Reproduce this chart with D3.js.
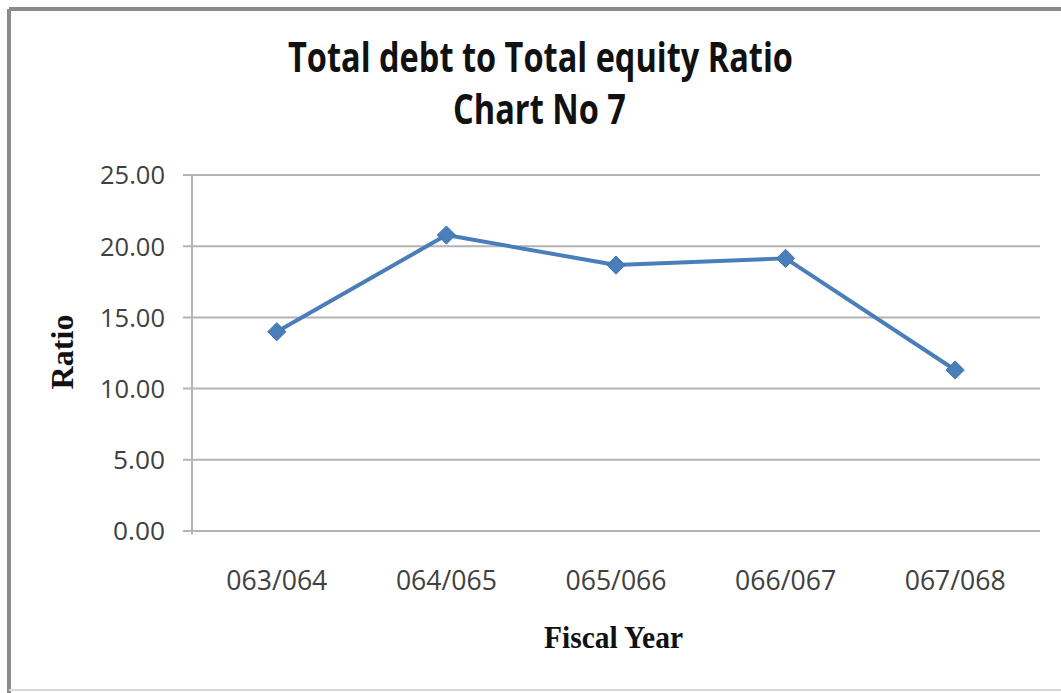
<!DOCTYPE html>
<html>
<head>
<meta charset="utf-8">
<script src="https://cdn.jsdelivr.net/npm/d3@7"></script>
<style>
  html, body { margin: 0; padding: 0; background: #ffffff; }
  svg { display: block; }
</style>
</head>
<body>
<svg id="chart" width="1061" height="693"></svg>
<script>
// Fiscal years and debt-to-equity ratios
const years = ["063/064", "064/065", "065/066", "066/067", "067/068"];
const ratios = [13.96, 20.75, 18.64, 19.11, 11.27];
const yTicks = [0, 5, 10, 15, 20, 25];
const titleLines = ["Total debt to Total equity Ratio", "Chart No 7"];

const W = 1061, H = 693;
const plot = { left: 192, right: 1040, top: 174.5, bottom: 530.5 };

const svg = d3.select("#chart");

// chart frame
svg.append("rect").attr("x", 0).attr("y", 0).attr("width", W).attr("height", H).attr("fill", "#fff");
svg.append("line").attr("x1", 9).attr("x2", W).attr("y1", 9).attr("y2", 9)
  .attr("stroke", "#8a8a8a").attr("stroke-width", 4);
svg.append("line").attr("x1", 9).attr("x2", 9).attr("y1", 9).attr("y2", H)
  .attr("stroke", "#8a8a8a").attr("stroke-width", 4);
svg.append("line").attr("x1", 9).attr("x2", W).attr("y1", 690).attr("y2", 690)
  .attr("stroke", "#d8d8d8").attr("stroke-width", 2);

const x = d3.scaleBand().domain(years).range([plot.left, plot.right]);
const y = d3.scaleLinear().domain([0, 25]).range([plot.bottom, plot.top]);

// horizontal gridlines with ticks extending left of the axis
const fmt = d3.format(".2f");
const yAxis = d3.axisLeft(y).tickValues(yTicks)
  .tickSize(-(plot.right - plot.left + 9)).tickPadding(0)
  .tickFormat(fmt);
const gy = svg.append("g").attr("transform", `translate(${plot.left - 9},0)`).call(yAxis);
gy.select(".domain").remove();
gy.selectAll(".tick line").attr("stroke", "#b3b3b3").attr("stroke-width", 2);
gy.selectAll(".tick text")
  .attr("x", -18).attr("dy", "0.36em")
  .attr("fill", "#404040")
  .attr("textLength", d => fmt(d).length * 13)
  .attr("lengthAdjust", "spacingAndGlyphs")
  .style("font-family", "'Open Sans', sans-serif")
  .style("font-size", "26px");

// vertical axis line
svg.append("line")
  .attr("x1", plot.left).attr("x2", plot.left)
  .attr("y1", y(25)).attr("y2", y(0) + 4)
  .attr("stroke", "#b3b3b3").attr("stroke-width", 2);

// category labels
const xAxis = d3.axisBottom(x).tickSize(0).tickPadding(0);
const gx = svg.append("g").attr("transform", `translate(0,${plot.bottom})`).call(xAxis);
gx.select(".domain").remove();
gx.selectAll(".tick text")
  .attr("y", 49).attr("dy", "0.36em")
  .attr("fill", "#404040")
  .attr("textLength", 101).attr("lengthAdjust", "spacingAndGlyphs")
  .style("font-family", "'Open Sans', sans-serif")
  .style("font-size", "28px");

// series line
const line = d3.line().x(d => x(d.year) + x.bandwidth() / 2).y(d => y(d.value));
const pts = years.map((yr, i) => ({ year: yr, value: ratios[i] }));
svg.append("path").datum(pts)
  .attr("d", line)
  .attr("fill", "none")
  .attr("stroke", "#4a7ebb")
  .attr("stroke-width", 4)
  .attr("stroke-linejoin", "round");

// diamond markers
svg.selectAll(".marker").data(pts).enter().append("path")
  .attr("class", "marker")
  .attr("d", d3.symbol().type(d3.symbolDiamond2).size(210))
  .attr("transform", d => `translate(${x(d.year) + x.bandwidth() / 2},${y(d.value)})`)
  .attr("fill", "#4a7ebb")
  .attr("stroke", "#3f72b0")
  .attr("stroke-width", 1);

// title
svg.append("text")
  .attr("x", 540.5).attr("y", 72)
  .attr("text-anchor", "middle")
  .attr("textLength", 505).attr("lengthAdjust", "spacingAndGlyphs")
  .style("font-family", "'Open Sans', sans-serif")
  .style("font-weight", "bold")
  .style("font-size", "42px")
  .attr("fill", "#111")
  .text(titleLines[0]);
svg.append("text")
  .attr("x", 539.5).attr("y", 124)
  .attr("text-anchor", "middle")
  .attr("textLength", 173).attr("lengthAdjust", "spacingAndGlyphs")
  .style("font-family", "'Open Sans', sans-serif")
  .style("font-weight", "bold")
  .style("font-size", "42px")
  .attr("fill", "#111")
  .text(titleLines[1]);

// axis titles
svg.append("text")
  .attr("transform", "translate(73,352) rotate(-90)")
  .attr("text-anchor", "middle")
  .attr("textLength", 75).attr("lengthAdjust", "spacingAndGlyphs")
  .style("font-family", "'Liberation Serif', 'Times New Roman', serif")
  .style("font-weight", "bold")
  .style("font-size", "31px")
  .attr("fill", "#111")
  .text("Ratio");
svg.append("text")
  .attr("x", 613.5).attr("y", 648)
  .attr("text-anchor", "middle")
  .attr("textLength", 139).attr("lengthAdjust", "spacingAndGlyphs")
  .style("font-family", "'Liberation Serif', 'Times New Roman', serif")
  .style("font-weight", "bold")
  .style("font-size", "31px")
  .attr("fill", "#111")
  .text("Fiscal Year");
</script>
</body>
</html>
